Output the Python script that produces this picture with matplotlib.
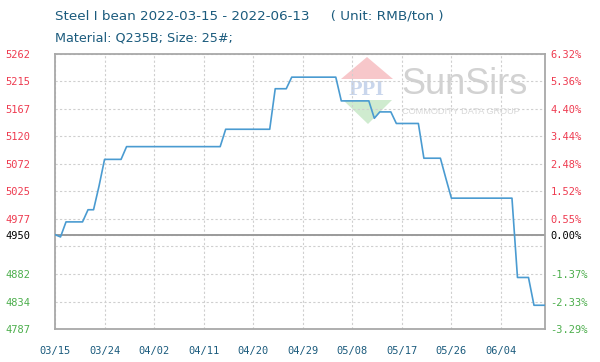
import matplotlib
matplotlib.use("Agg")
import matplotlib.pyplot as plt
import matplotlib.patches as mpatches
import pandas as pd

# --- data ---
start_date = "2022-03-15"
prices = [
    4950, 4946, 4972, 4972, 4972, 4972, 4993, 4993, 5034, 5080,
    5080, 5080, 5080, 5102, 5102, 5102, 5102, 5102, 5102, 5102,
    5102, 5102, 5102, 5102, 5102, 5102, 5102, 5102, 5102, 5102,
    5102, 5132, 5132, 5132, 5132, 5132, 5132, 5132, 5132, 5132,
    5202, 5202, 5202, 5222, 5222, 5222, 5222, 5222, 5222, 5222,
    5222, 5222, 5181, 5181, 5181, 5181, 5181, 5181, 5151, 5162,
    5162, 5162, 5142, 5142, 5142, 5142, 5142, 5082, 5082, 5082,
    5082, 5047, 5013, 5013, 5013, 5013, 5013, 5013, 5013, 5013,
    5013, 5013, 5013, 5013, 4876, 4876, 4876, 4828, 4828, 4828,
]
base_price = 4950
left_ticks = [4787, 4834, 4882, 4950, 4977, 5025, 5072, 5120, 5167, 5215, 5262]
right_labels = ["-3.29%", "-2.33%", "-1.37%", "0.00%", "0.55%", "1.52%",
                "2.48%", "3.44%", "4.40%", "5.36%", "6.32%"]
extra_grid = [4930]
x_tick_labels = ["03/15", "03/24", "04/02", "04/11", "04/20",
                 "04/29", "05/08", "05/17", "05/26", "06/04"]
title_1 = "Steel I bean 2022-03-15 - 2022-06-13     ( Unit: RMB/ton )"
title_2 = "Material: Q235B; Size: 25#;"

dates = pd.date_range(start_date, periods=len(prices), freq="D")
tick_dates = pd.to_datetime(["2022/" + s for s in x_tick_labels])

RED = "#ee3b50"
GREEN = "#4cae4c"
BLUE_TXT = "#1b5b7d"
LINE = "#4a9bd1"


def px(x, y):
    return (x / 600, 1 - y / 362)


def label_color(v):
    if v > base_price:
        return RED
    if v < base_price:
        return GREEN
    return "black"


fig = plt.figure(figsize=(6, 3.62), dpi=100)
ax = fig.add_axes([55 / 600, 1 - 329 / 362, 490 / 600, 275 / 362])

ax.plot(dates, prices, color=LINE, lw=1.2, zorder=3)
ax.axhline(base_price, color="#9a9a9a", lw=1.4, zorder=2)

ax.set_xlim(dates[0], dates[-1])
ax.set_ylim(min(left_ticks), max(left_ticks))

ax.set_xticks(tick_dates)
ax.set_xticklabels(x_tick_labels, family="DejaVu Sans Mono", fontsize=7.5,
                   color=BLUE_TXT)
ax.set_yticks(left_ticks)
ax.set_yticklabels([str(v) for v in left_ticks], family="DejaVu Sans Mono",
                   fontsize=7.5)
for lab, v in zip(ax.get_yticklabels(), left_ticks):
    lab.set_color(label_color(v))
ax.set_yticks(extra_grid, minor=True)

ax.tick_params(axis="both", which="both", length=0)
ax.tick_params(axis="y", pad=18)
ax.tick_params(axis="x", pad=12)

grid_kw = dict(color="#cfcfcf", linestyle=(0, (2, 2)), lw=0.8)
ax.grid(True, which="major", **grid_kw)
ax.grid(True, which="minor", axis="y", **grid_kw)

for sp in ax.spines.values():
    sp.set_color("#a8a8a8")
    sp.set_linewidth(1.3)

ax2 = ax.twinx()
ax2.set_ylim(ax.get_ylim())
ax2.set_yticks(left_ticks)
ax2.set_yticklabels(right_labels, family="DejaVu Sans Mono", fontsize=7.5)
for lab, v in zip(ax2.get_yticklabels(), left_ticks):
    lab.set_color(label_color(v))
ax2.tick_params(axis="y", length=0, pad=4)
for sp in ax2.spines.values():
    sp.set_visible(False)

# watermark
tf = fig.transFigure
ax.add_patch(mpatches.Polygon([px(367, 57), px(341, 79), px(393, 79)],
                              closed=True, transform=tf, color="#f6b9bd",
                              alpha=0.8, lw=0, zorder=1))
ax.add_patch(mpatches.Polygon([px(343, 100), px(392, 100), px(368, 124)],
                              closed=True, transform=tf, color="#c3e6c3",
                              alpha=0.8, lw=0, zorder=1))
ax.text(*px(367, 90), "PPI", transform=tf, ha="center", va="center",
        family="Liberation Serif", fontsize=16, fontweight="bold",
        color="#c9d6ec", zorder=1)
ax.text(*px(401, 84), "SunSirs", transform=tf, ha="left", va="center",
        family="Liberation Sans", fontsize=26, color="#d2d2d2", zorder=1)
ax.text(*px(402, 112), "COMMODITY DATA GROUP", transform=tf, ha="left",
        va="center", family="Liberation Sans", fontsize=6.6,
        color="#d8d8d8", zorder=1)

fig.text(*px(55, 16), title_1, ha="left", va="center", family="DejaVu Sans",
         fontsize=9.7, color=BLUE_TXT)
fig.text(*px(55, 38), title_2, ha="left", va="center", family="DejaVu Sans",
         fontsize=9.2, color=BLUE_TXT)

fig.savefig("out.png", dpi=100, facecolor="white")
